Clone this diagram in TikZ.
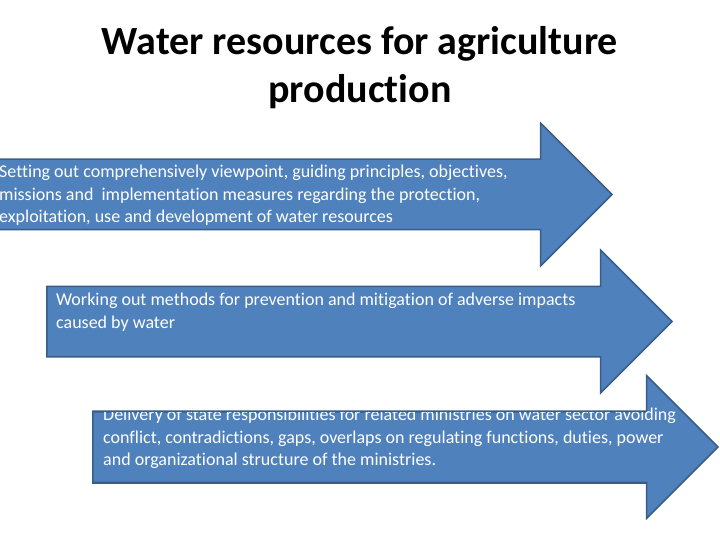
\documentclass[tikz,border=0pt]{standalone}
\usepackage{fontspec}
\setmainfont{Carlito}[Ligatures={NoCommon}]
\usetikzlibrary{shapes.arrows}
\definecolor{arrowfill}{HTML}{4F81BD}
\definecolor{arrowline}{HTML}{385D8A}

\begin{document}
\begin{tikzpicture}[x=1pt, y=-1pt,
    bigarrow/.style={single arrow, draw=arrowline, fill=arrowfill, line width=1.5pt, anchor=tip,
      minimum height=625pt, inner xsep=0pt, inner ysep=34.5pt, single arrow head extend=36pt},
    arrowtext/.style={anchor=north west, inner sep=0pt, align=left, text=white,
      font=\fontsize{18}{22.5}\selectfont}]
    \useasboundingbox (0,0) rectangle (720,540);
    \clip (0,0) rectangle (720,540);

    \node[align=center, font=\fontsize{40}{48}\selectfont\bfseries] at (360, 68) (title)
      {Water resources for agriculture\\production};

    \node[bigarrow] at (613, 194.5) (a1) {};
    \node[bigarrow] at (673, 321.5) (a2) {};
    \node[bigarrow] at (719, 447)   (a3) {};

    \node[arrowtext] at (-1, 165) (t1)
      {Setting out comprehensively viewpoint, guiding principles, objectives,\\
       missions and\ \ implementation measures regarding the protection,\\
       exploitation, use and development of water resources};
    \node[arrowtext] at (56, 293) (t2)
      {Working out methods for prevention and mitigation of adverse impacts\\
       caused by water};
    \node[arrowtext] at (103, 408) (t3)
      {Delivery of state responsibilities for related ministries on water sector avoiding\\
       conflict, contradictions, gaps, overlaps on regulating functions, duties, power\\
       and organizational structure of the ministries.};

    % shaft edges of the last arrow lie over its text
    \draw[arrowline, line width=1.5pt] (a3.after head) -- (a3.before tail);
    \draw[arrowline, line width=1.5pt] (a3.after tail) -- (a3.before head);
\end{tikzpicture}
\end{document}
